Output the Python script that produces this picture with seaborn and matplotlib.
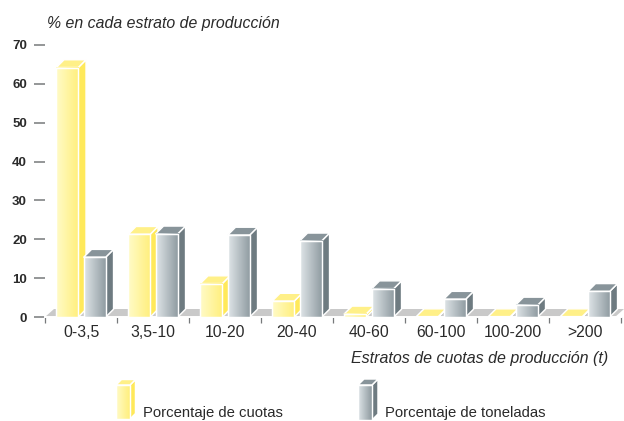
import numpy as np
import pandas as pd
import seaborn as sns
import matplotlib.pyplot as plt
from matplotlib.patches import Polygon
from matplotlib.transforms import IdentityTransform

# values
estratos = ['0-3,5', '3,5-10', '10-20', '20-40', '40-60', '60-100', '100-200', '>200']
pct_cuotas = [64.2, 21.3, 8.6, 4.1, 0.8, 0.1, 0.1, 0.1]
pct_toneladas = [15.4, 21.4, 21.1, 19.6, 7.3, 4.6, 3.1, 6.6]
yticks = [0, 10, 20, 30, 40, 50, 60, 70]

W, H = 624, 421
DEPTH = 7.8

sns.set_theme(style='white')
plt.rcParams['font.family'] = ['Liberation Sans', 'DejaVu Sans']

# colours: front gradient left, right, side, top left, top right
amarillo = ['#fffbc8', '#ffef7c', '#ffe95a', '#fff088', '#ffec6e']
gris = ['#dfe5e8', '#8d999f', '#6e7b81', '#88949a', '#b4bdc1']

df = pd.DataFrame({
    'estrato': estratos * 2,
    'pct': pct_cuotas + pct_toneladas,
    'serie': ['Porcentaje de cuotas'] * 8 + ['Porcentaje de toneladas'] * 8,
})

fig = plt.figure(figsize=(W / 100, H / 100), dpi=100, facecolor='white')
ax = fig.add_axes([45 / W, (H - 317) / H, 576 / W, 272 / H])

sns.barplot(data=df, x='estrato', y='pct', hue='serie', order=estratos,
            palette=[amarillo[1], gris[1]], width=0.764, gap=0.2,
            legend=False, ax=ax)

ax.set_xlim(-0.5, 7.5)
ax.set_ylim(0, 70)
ax.set_autoscale_on(False)
ax.set_xlabel('')
ax.set_ylabel('')
sns.despine(ax=ax, left=True, top=True, right=True)
ax.spines['bottom'].set_color('white')
ax.spines['bottom'].set_linewidth(1.4)
ax.patch.set_alpha(0)

ax.set_yticks(yticks)
ax.set_yticklabels([str(v) for v in yticks], fontsize=9.5, fontweight='bold', color='#2a2a2a')
ax.tick_params(axis='y', left=True, length=8, width=1.1, color='#77797b', pad=5)
ax.set_xticks(range(len(estratos)))
ax.set_xticklabels(estratos, fontsize=11.3, color='#2a2a2a')
ax.tick_params(axis='x', which='major', bottom=False, length=0, pad=6)
ax.set_xticks(np.arange(-0.5, 8), minor=True)
ax.tick_params(axis='x', which='minor', bottom=True, length=4.5, width=0.9, color='#77797b')

ident = IdentityTransform()


def poly(pts, color, z, edge='white'):
    ax.add_patch(Polygon(pts, closed=True, facecolor=color, edgecolor=edge, linewidth=1.05,
                         transform=ident, clip_on=False, zorder=z, joinstyle='round'))


def gradient(x0, x1, y0, y1, left, right, z):
    c = np.array([plt.matplotlib.colors.to_rgb(left), plt.matplotlib.colors.to_rgb(right)])
    img = np.linspace(c[0], c[1], 64)[None, :, :]
    ax.imshow(img, extent=(x0, x1, y0, y1), transform=ident, aspect='auto',
              interpolation='bilinear', clip_on=False, zorder=z)


def box3d(x0, x1, y0, y1, d, cols, z):
    # front with gradient, side and top in pixel coordinates
    poly([(x1, y0), (x1 + d, y0 + d), (x1 + d, y1 + d), (x1, y1)], cols[2], z)
    poly([(x0, y1), (x0 + d, y1 + d), (x1 + d, y1 + d), (x1, y1)], cols[3], z)
    if y1 - y0 > 1:
        gradient(x0, x1, y0, y1, cols[0], cols[1], z + 0.1)
        poly([(x0, y0), (x1, y0), (x1, y1), (x0, y1)], 'none', z + 0.2)


fig.canvas.draw()

# floor behind the bars
base = ax.transData.transform((0, 0))[1]
xl = ax.transData.transform((-0.5, 0))[0]
xr = ax.transData.transform((7.5, 0))[0]
poly([(xl, base), (xl + 9, base + 8), (xr + 3, base + 8), (xr - 6, base)], '#c9c9c9', 1, edge='none')

# dress the seaborn bars, left to right so that each covers the one before
bars = []
for cont, cols in zip(ax.containers, [amarillo, gris]):
    for b in cont:
        bars.append((b, cols))
bars.sort(key=lambda t: t[0].get_x())
for i, (b, cols) in enumerate(bars):
    e = b.get_window_extent()
    b.set_visible(False)
    box3d(e.x0, e.x1, e.y0, e.y1, DEPTH, cols, 3 + i)

# legend icons
box3d(116, 130, H - 419, H - 385, 5.5, amarillo, 40)
box3d(358, 372, H - 420, H - 385, 6, gris, 40)

fig.text(47 / W, 1 - 28 / H, '% en cada estrato de producción', fontsize=11.4, style='italic',
         color='#2a2a2a', ha='left', va='baseline')
fig.text(351 / W, 1 - 363 / H, 'Estratos de cuotas de producción (t)', fontsize=11.5, style='italic',
         color='#2a2a2a', ha='left', va='baseline')
fig.text(143 / W, 1 - 417 / H, 'Porcentaje de cuotas', fontsize=10.7, color='#2a2a2a',
         ha='left', va='baseline')
fig.text(385 / W, 1 - 417 / H, 'Porcentaje de toneladas', fontsize=10.7, color='#2a2a2a',
         ha='left', va='baseline')

fig.savefig('out.png', dpi=100)
